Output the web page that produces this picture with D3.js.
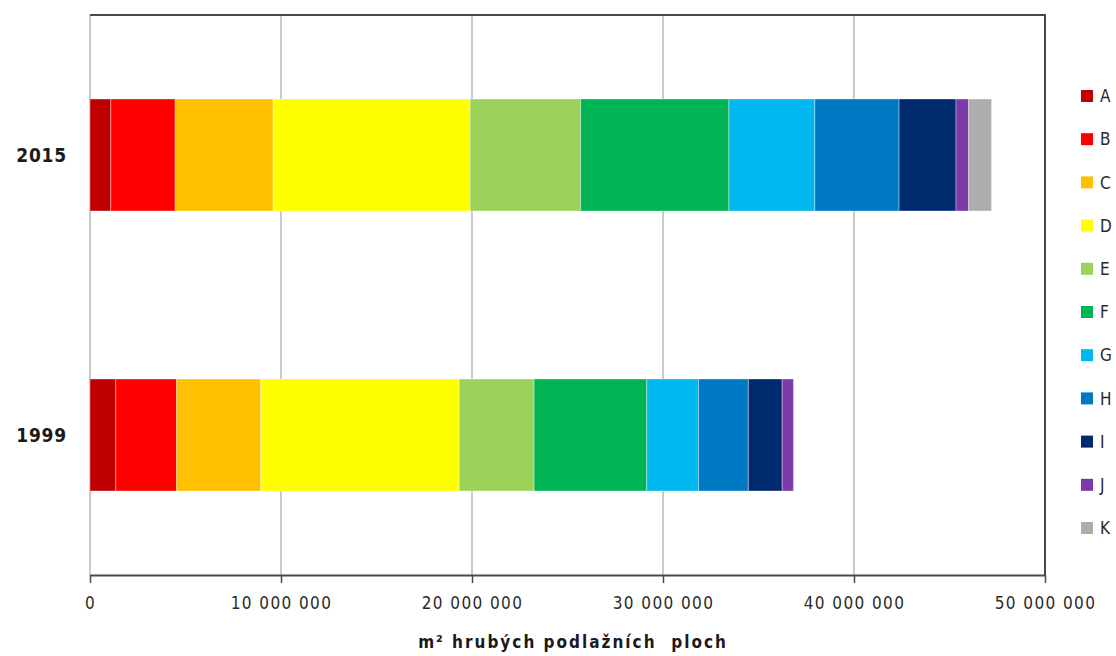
<!DOCTYPE html>
<html><head><meta charset="utf-8">
<script src="https://cdn.jsdelivr.net/npm/d3@7"></script>
<style>
html,body{margin:0;padding:0;background:#fff;}
svg{display:block;}
text{font-family:"DejaVu Sans Condensed","DejaVu Sans",sans-serif;}
</style></head>
<body>
<svg id="chart" width="1116" height="656"></svg>
<script>
const categories = ["2015", "1999"];
const seriesNames = ["A", "B", "C", "D", "E", "F", "G", "H", "I", "J", "K"];
const values2015 = [1090000, 3370000, 5130000, 10310000, 5790000, 7760000, 4500000, 4410000, 2980000, 660000, 1200000];
const values1999 = [1350000, 3180000, 4410000, 10390000, 3920000, 5900000, 2710000, 2610000, 1770000, 590000, 0];
const colors = ["#C00000", "#FF0000", "#FFC000", "#FFFF00", "#9BD35A", "#00B454", "#00B8F0", "#0079C4", "#002A6E", "#7A3AA8", "#ADADAD"];
const tickValues = [0, 10000000, 20000000, 30000000, 40000000, 50000000];
const xTitle = "m\u00B2 hrubých podlažních\u00A0 ploch";

const rows = [values2015, values1999].map((vals, i) => {
  const o = {cat: categories[i]};
  seriesNames.forEach((s, j) => o[s] = vals[j]);
  return o;
});

const svg = d3.select("#chart");
const L = 90, R = 1045, T = 15, B = 575;

const x = d3.scaleLinear().domain([0, 50000000]).range([L, R]);
const y = d3.scaleBand().domain(categories).range([T, B]).paddingInner(0.6).paddingOuter(0.3);
const color = d3.scaleOrdinal().domain(seriesNames).range(colors);

const loc = d3.formatLocale({decimal: ",", thousands: " ", grouping: [3], currency: ["", ""]});
const fmt = loc.format(",d");

// gridlines
svg.append("g").selectAll("line").data(tickValues.filter(v => v < 50000000)).join("line")
  .attr("x1", d => x(d)).attr("x2", d => x(d))
  .attr("y1", T).attr("y2", B)
  .attr("stroke", "#bdbdbd").attr("stroke-width", 1.6);

// top and right frame
svg.append("path")
  .attr("d", `M${L},${T}H${R}V${B}`)
  .attr("fill", "none").attr("stroke", "#4a4a4a").attr("stroke-width", 2);

// bars
const stack = d3.stack().keys(seriesNames)(rows);
svg.append("g").selectAll("g").data(stack).join("g")
  .attr("fill", d => color(d.key))
  .selectAll("rect").data(d => d.filter(p => p[1] - p[0] > 0)).join("rect")
  .attr("x", d => x(d[0]))
  .attr("width", d => x(d[1]) - x(d[0]))
  .attr("y", d => y(d.data.cat))
  .attr("height", y.bandwidth())
  .attr("stroke", "rgba(255,255,255,0.35)").attr("stroke-width", 1);

// x axis
const xAxis = d3.axisBottom(x).tickValues(tickValues).tickFormat(fmt).tickSize(8).tickSizeOuter(0).tickPadding(14);
const gx = svg.append("g").attr("transform", `translate(0,${B})`).call(xAxis);
gx.select(".domain").attr("stroke", "#4a4a4a").attr("stroke-width", 2);
gx.selectAll(".tick line").attr("stroke", "#4a4a4a").attr("stroke-width", 1.5);
gx.selectAll(".tick text").attr("font-family", "'DejaVu Sans Condensed', 'DejaVu Sans', sans-serif")
  .attr("font-size", 17).attr("fill", "#2a2a2a").attr("letter-spacing", 1.4);

// y labels
svg.append("g").selectAll("text").data(categories).join("text")
  .attr("x", 67).attr("y", d => y(d) + y.bandwidth() / 2)
  .attr("dy", "0.36em").attr("text-anchor", "end")
  .attr("font-size", 19).attr("font-weight", "bold").attr("letter-spacing", 0.8).attr("fill", "#1a1a1a")
  .text(d => d);

// x title
svg.append("text")
  .attr("x", 573).attr("y", 648)
  .attr("text-anchor", "middle")
  .attr("font-size", 17).attr("font-weight", "bold").attr("letter-spacing", 2.0).attr("fill", "#1a1a1a")
  .text(xTitle);

// legend
const ly = d3.scalePoint().domain(seriesNames).range([96, 528]);
const lg = svg.append("g").selectAll("g").data(seriesNames).join("g")
  .attr("transform", d => `translate(1081,${ly(d)})`);
lg.append("rect").attr("x", 0).attr("y", -6).attr("width", 12).attr("height", 12)
  .attr("fill", d => color(d));
lg.append("text").attr("x", 19).attr("y", 0).attr("dy", "0.36em")
  .attr("font-size", 17).attr("fill", "#2a2a2a").text(d => d);
</script>
</body></html>
